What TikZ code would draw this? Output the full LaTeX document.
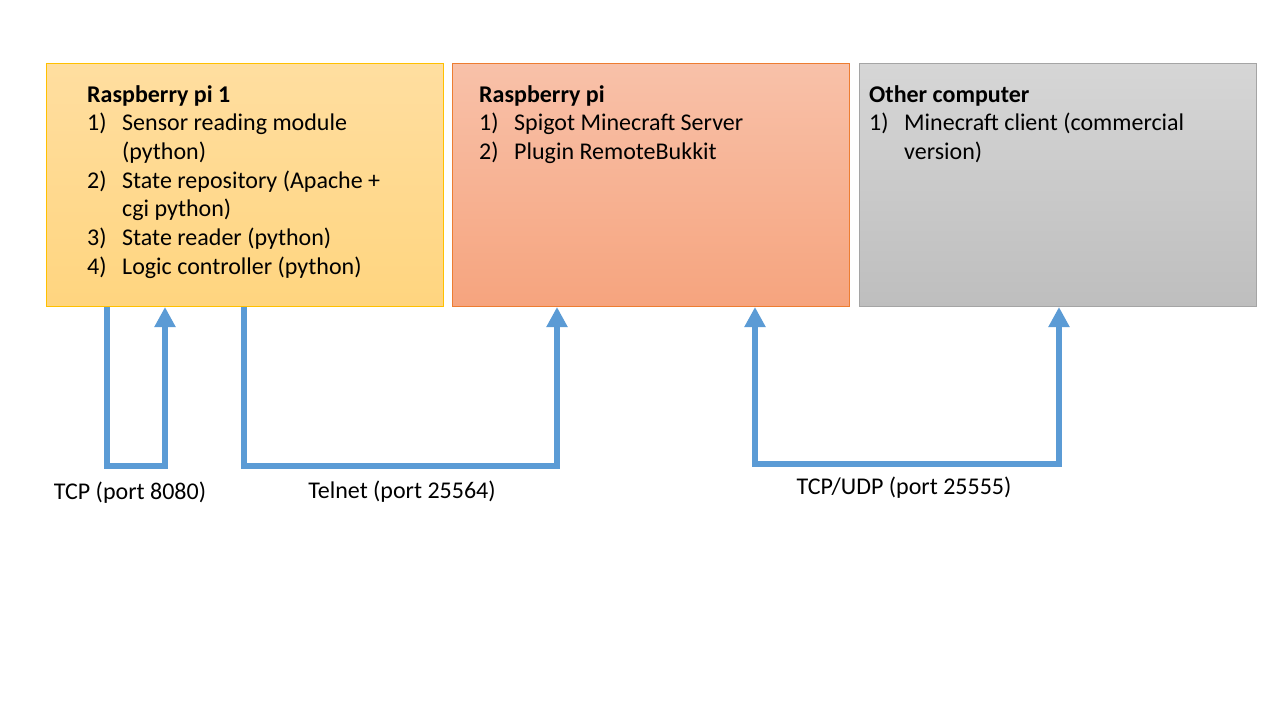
\documentclass[tikz,border=0pt]{standalone}
\usepackage{fontspec}
\setmainfont{Carlito}
\usepackage{xcolor}
\usetikzlibrary{arrows.meta,calc}
\definecolor{pione-border}{RGB}{255,192,0}
\definecolor{pione-top}{RGB}{255,222,160}
\definecolor{pione-bottom}{RGB}{255,213,127}
\definecolor{pi-border}{RGB}{237,125,49}
\definecolor{pi-top}{RGB}{248,193,169}
\definecolor{pi-bottom}{RGB}{246,164,126}
\definecolor{pc-border}{RGB}{165,165,165}
\definecolor{pc-top}{RGB}{214,214,214}
\definecolor{pc-bottom}{RGB}{190,190,190}
\definecolor{link-blue}{RGB}{91,155,213}
\tikzset{
    host-box/.style = {rectangle, line width=1pt, inner sep=0pt, anchor=north west, minimum width=397pt, minimum height=243pt},
    host-text/.style = {anchor=base west, inner sep=0pt, font=\fontsize{24}{28.7}\selectfont},
    port-label/.style = {anchor=base, inner sep=0pt, font=\fontsize{24}{28.7}\selectfont},
    link/.style = {draw=link-blue, line width=6pt, line join=miter},
}
\newcommand{\hostlist}[1]{\begin{tabular}[t]{@{}p{35pt}@{}l@{}}#1\end{tabular}}

\begin{document}
\begin{tikzpicture}[x=1pt, y=-1pt]
\useasboundingbox[fill=white] (0,0) rectangle (1280,720);
% the three machines
\node [host-box, draw=pione-border, top color=pione-top, bottom color=pione-bottom] (pi1) at (46,63) {};
\node [host-box, draw=pi-border, top color=pi-top, bottom color=pi-bottom] (pi2) at (452,63) {};
\node [host-box, draw=pc-border, top color=pc-top, bottom color=pc-bottom] (pc) at (859,63) {};
\node [host-text] (pi1-text) at (87,102) {\hostlist{%
    \multicolumn{2}{@{}l@{}}{\bfseries Raspberry pi 1}\\
    1) & Sensor reading module\\
       & (python)\\
    2) & State repository (Apache +\\
       & cgi python)\\
    3) & State reader (python)\\
    4) & Logic controller (python)}};
\node [host-text] (pi2-text) at (479,102) {\hostlist{%
    \multicolumn{2}{@{}l@{}}{\bfseries Raspberry pi}\\
    1) & Spigot Minecraft Server\\
    2) & Plugin RemoteBukkit}};
\node [host-text] (pc-text) at (869,102) {\hostlist{%
    \multicolumn{2}{@{}l@{}}{\bfseries Other computer}\\
    1) & Minecraft client (commercial\\
       & version)}};
% connections
\draw [link, -{Triangle[width=20pt,length=20pt]}] ($(pi1.south west)+(61,0)$) -- ++(0,159) -| ($(pi1.south west)+(119,0)$);
\draw [link, -{Triangle[width=20pt,length=20pt]}] ($(pi1.south west)+(198,0)$) -- ++(0,159) -| ($(pi2.south west)+(105,0)$);
\draw [link, {Triangle[width=20pt,length=20pt]}-{Triangle[width=20pt,length=20pt]}] ($(pi2.south west)+(303,0)$) -- ++(0,157) -| ($(pc.south west)+(200,0)$);
\node [port-label] (tcp-label) at (130,499) {TCP (port 8080)};
\node [port-label] (telnet-label) at (402,498) {Telnet (port 25564)};
\node [port-label] (udp-label) at (904,494) {TCP/UDP (port 25555)};
\end{tikzpicture}
\end{document}
